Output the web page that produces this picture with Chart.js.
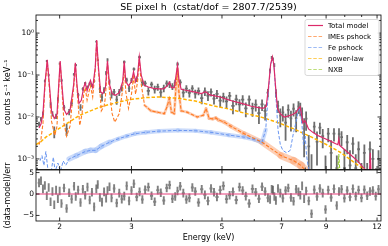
<!DOCTYPE html>
<html>
<head>
<meta charset="utf-8">
<script src="https://cdn.jsdelivr.net/npm/chart.js@4.4.1/dist/chart.umd.min.js"></script>
<style>
  html, body { margin: 0; padding: 0; background: #fff; }
  #wrap { position: relative; width: 388px; height: 246px; }
  canvas { position: absolute; left: 0; top: 0; }
</style>
</head>
<body>
<div id="wrap">
  <canvas id="spec" width="388" height="246"></canvas>
  <canvas id="resid" width="388" height="246"></canvas>
</div>
<script>
// axis ranges
const X_MIN = 1.75, X_MAX = 12.27;
const Y_MIN = 5.6e-4, Y_MAX = 2.7;
const RES_MIN = -6.3, RES_MAX = 5.6;

// ticks
const xMajor = [2, 3, 5, 7, 9, 12];
const xTickLabels = ['2', '3', '5', '7', '9', '12'];
const xMinor = [4, 6, 8, 10, 11];
const yMajor = [1e-3, 1e-2, 1e-1, 1];
const yTickLabels = ['10⁻³', '10⁻²', '10⁻¹', '10⁰'];
const yDecades = [1e-4, 1e-3, 1e-2, 1e-1, 1];
const ySubs = [2, 3, 4, 5, 6, 7, 8, 9];
const resTicks = [-5, 0, 5];
const resTickLabels = ['−5', '0', '5'];

// observed spectrum (keV, counts/s/keV, 1-sigma error)
const dataE = [1.78,1.80,1.82,1.84,1.86,1.88,1.90,1.92,1.94,1.96,1.98,2.00,
  2.02,2.05,2.08,2.11,2.14,2.17,2.19,2.22,2.25,2.28,2.31,2.34,2.37,2.40,2.43,2.46,2.48,2.51,2.54,2.57,2.60,2.62,2.65,2.68,2.72,2.76,2.80,2.84,2.88,2.92,2.96,3.00,
  3.04,3.09,3.14,3.19,3.24,3.30,3.36,3.42,3.48,3.54,3.60,3.66,3.72,3.78,3.84,3.89,3.95,4.02,4.09,4.16,4.23,4.30,4.38,4.46,4.54,4.62,4.70,4.78,4.86,4.95,
  5.04,5.13,5.22,5.32,5.42,5.52,5.62,5.72,5.83,5.94,6.05,6.16,6.27,6.38,6.48,6.56,6.62,6.67,6.72,6.78,6.86,6.95,7.05,7.16,7.27,7.38,7.49,7.60,7.70,7.78,7.86,7.95,8.04,
  8.16,8.29,8.42,8.55,8.69,8.83,8.97,9.11,9.26,9.41,9.56,9.68,9.82,9.98,10.14,10.30,10.47,10.64,10.81,10.99,11.17,11.35,11.53,11.72,11.91,12.10];
const dataRate = [0.0068,0.0089,0.0119,0.072,0.215,0.10,0.0196,0.012,0.0045,0.0104,0.0267,0.188,
  0.075,0.017,0.0052,0.0132,0.0214,0.104,0.173,0.0334,0.017,0.047,0.0635,0.052,0.062,0.057,0.072,0.624,0.226,0.046,0.0298,0.044,0.112,0.23,0.069,0.0344,0.0395,0.026,0.039,0.049,0.2045,0.076,0.048,0.075,
  0.139,0.080,0.267,0.0665,0.063,0.042,0.0596,0.0458,0.0524,0.0388,0.0488,0.063,0.060,0.054,0.066,0.183,0.067,0.038,0.0475,0.0375,0.048,0.036,0.0417,0.0283,0.041,0.0325,0.0395,0.0275,0.0355,0.0246,
  0.030,0.0236,0.032,0.0184,0.0264,0.020,0.026,0.016,0.0258,0.016,0.0198,0.0124,0.020,0.014,0.038,0.129,0.262,0.241,0.173,0.0375,0.0185,0.0108,0.0129,0.0073,0.0147,0.0093,0.0157,0.0094,0.0178,0.0162,0.012,0.0052,0.0091,
  0.002,0.0004,0.0059,0.0026,0.0056,0.0035,0.0005,0.004,0.0014,0.004,0.0006,0.0039,0.0033,0.0006,0.0025,0.0007,0.0023,0.0006,0.0017,0.0002,0.0014,0.0003,0.0017,0.001,0.0002,0.001];
const dataErr = [0.0009,0.0011,0.0016,0.006,0.012,0.007,0.003,0.0017,0.0014,0.0015,0.003,0.011,
  0.007,0.0022,0.0017,0.0022,0.003,0.008,0.011,0.0038,0.003,0.0045,0.005,0.0045,0.0055,0.005,0.006,0.02,0.012,0.0085,0.0065,0.0075,0.013,0.02,0.0095,0.0068,0.007,0.0065,0.0075,0.0085,0.018,0.01,0.0085,0.01,
  0.013,0.012,0.022,0.011,0.01,0.0095,0.01,0.0095,0.01,0.0095,0.01,0.011,0.011,0.01,0.011,0.018,0.011,0.0088,0.0098,0.0085,0.0094,0.0085,0.0088,0.0082,0.0092,0.0085,0.0085,0.0077,0.0085,0.0077,
  0.0078,0.0072,0.0075,0.0068,0.0073,0.0065,0.0071,0.0061,0.0068,0.0058,0.0063,0.0056,0.0061,0.0058,0.0085,0.015,0.022,0.022,0.017,0.0085,0.006,0.0051,0.0051,0.0046,0.0051,0.0048,0.0054,0.0051,0.006,0.0058,0.0048,0.0041,0.0044,
  0.0017,0.0009,0.0018,0.0019,0.0017,0.0017,0.0007,0.0015,0.0014,0.0014,0.0006,0.0015,0.0013,0.0011,0.0012,0.0009,0.001,0.0007,0.0009,0.0006,0.0008,0.0005,0.0009,0.0007,0.0004,0.0006];
// residuals (data-model)/err, error bar is one sigma
const resid = [2.6,3.1,1.2,2.0,-0.4,1.5,-1.8,0.6,-2.5,0.9,-1.1,0.7,
  -2.2,1.4,-3.4,0.3,-1.2,1.8,-0.6,0.9,-2.0,1.1,-0.3,1.6,
  -1.4,0.4,-3.0,1.2,2.2,-0.8,-1.9,0.5,-1.0,0.8,1.7,-0.9,
  1.3,-2.1,0.2,-1.2,-0.5,1.9,-1.6,0.8,2.4,-0.7,0.5,-1.3,
  1.0,1.6,-0.4,-1.8,0.9,0.3,-1.5,1.4,2.1,-1.1,-0.6,0.7,
  1.8,0.2,-1.3,-0.9,1.5,0.6,-2.0,1.1,-0.2,-1.6,1.3,0.4,
  -0.7,0.9,1.9,-1.2,-0.3,0.5,-1.4,1.6,0.8,-0.5,-2.2,1.2,
  0.4,-1.1,1.7,0.6,-0.9,-1.3,1.1,0.9,-0.6,-1.5,1.3,0.2,
  -1.0,0.8,1.4,-0.8,-1.7,1.1,0.5,-0.3,1.9,-1.1,0.7,-1.6,
  -4.6,1.0,-0.6,1.3,0.2,-3.6,0.9,-0.8,1.2,-2.7,0.6,1.1,
  -1.0,0.8,-0.7,1.2,-0.5,0.9,-0.9,1.0,-0.4,0.6,0.8,-0.5,1.1];
const RES_ERR = 1;

// model components
const totalE = [1.78,1.80,1.82,1.84,1.865,1.89,1.91,1.94,1.97,1.99,2.006,2.025,2.05,2.08,2.12,2.165,2.185,2.205,2.23,2.26,
  2.29,2.31,2.335,2.36,2.38,2.41,2.445,2.465,2.49,2.52,2.55,2.59,2.62,2.65,2.69,2.74,2.80,2.855,2.88,2.905,
  2.95,3.00,3.035,3.07,3.105,3.135,3.17,3.22,3.30,3.40,3.50,3.60,3.67,3.715,3.76,3.82,3.86,3.89,3.92,3.97,
  4.05,4.15,4.30,4.45,4.56,4.65,4.80,4.95,5.10,5.30,5.50,5.70,5.90,6.10,6.30,6.42,6.50,6.58,6.645,6.70,
  6.77,6.84,6.95,7.10,7.25,7.45,7.60,7.70,7.77,7.84,7.90,7.98,8.05,8.15,8.35,8.60,8.90,9.20,9.50,9.62,
  9.67,9.72,9.90,10.20,10.50,10.80,11.10,11.40,11.50,11.55,11.60,11.90,12.27];
const totalV = [0.0055,0.0068,0.012,0.06,0.23,0.05,0.014,0.0092,0.0115,0.06,0.215,0.06,0.015,0.0115,0.014,0.06,0.195,0.06,0.021,0.025,
  0.05,0.065,0.042,0.06,0.075,0.05,0.15,0.68,0.15,0.04,0.036,0.05,0.22,0.06,0.036,0.033,0.038,0.07,0.21,0.07,
  0.055,0.07,0.12,0.07,0.10,0.27,0.10,0.058,0.052,0.048,0.047,0.047,0.055,0.068,0.05,0.05,0.10,0.17,0.08,0.046,
  0.044,0.042,0.039,0.036,0.040,0.034,0.032,0.030,0.027,0.024,0.022,0.020,0.018,0.017,0.016,0.018,0.05,0.18,0.27,0.18,
  0.05,0.016,0.012,0.010,0.0105,0.0115,0.013,0.016,0.0175,0.011,0.0072,0.0082,0.007,0.0052,0.0043,0.0036,0.0031,0.0027,0.0023,0.0022,
  0.003,0.0021,0.0018,0.0014,0.0011,0.00085,0.00062,0.0005,0.0005,0.0014,0.00046,0.0004,0.00032];

const imeE = [1.78,1.80,1.82,1.84,1.865,1.89,1.91,1.945,1.97,1.99,2.006,2.025,2.05,2.08,2.12,2.165,2.185,2.205,2.24,2.27,
  2.29,2.31,2.335,2.36,2.38,2.41,2.445,2.465,2.49,2.53,2.57,2.59,2.62,2.65,2.69,2.73,2.80,2.855,2.88,2.905,
  2.95,3.00,3.035,3.07,3.105,3.135,3.17,3.23,3.35,3.47,3.61,3.67,3.715,3.76,3.82,3.86,3.89,3.92,3.97,4.11,
  4.35,4.50,4.57,4.65,4.75,4.83,4.90,5.06,5.26,5.67,6.27,6.98,7.50,7.81,8.13];
const imeV = [0.0022,0.003,0.007,0.05,0.21,0.04,0.008,0.0036,0.006,0.05,0.195,0.05,0.007,0.0035,0.006,0.05,0.18,0.05,0.0063,0.012,
  0.035,0.05,0.025,0.04,0.055,0.03,0.13,0.65,0.13,0.014,0.018,0.03,0.2,0.04,0.012,0.0075,0.012,0.045,0.18,0.04,
  0.016,0.035,0.09,0.035,0.07,0.24,0.06,0.019,0.014,0.013,0.012,0.018,0.028,0.013,0.012,0.06,0.14,0.04,0.014,0.013,
  0.010,0.011,0.016,0.0092,0.009,0.0095,0.0085,0.0076,0.006,0.004,0.0025,0.0012,0.0009,0.0007,0.00045];

const feE = [1.79,1.81,1.83,1.85,1.87,1.90,1.93,1.95,1.98,2.01,2.04,2.07,2.11,2.20,2.31,2.38,2.45,2.53,2.65,2.78,
  2.92,3.06,3.25,3.50,3.90,4.30,4.70,5.20,5.67,6.00,6.27,6.40,6.50,6.58,6.645,6.71,6.78,6.86,6.95,7.05,
  7.20,7.35,7.48,7.58,7.68,7.77,7.85,7.92,8.00,8.06,8.15,8.30];
const feV = [0.0009,0.0012,0.0007,0.0015,0.0006,0.0004,0.0011,0.0005,0.0008,0.0005,0.0009,0.0007,0.001,0.0012,0.0015,0.0016,0.0016,0.002,0.0025,0.003,
  0.0035,0.004,0.0043,0.0046,0.0048,0.0047,0.0043,0.0037,0.0033,0.0029,0.0025,0.005,0.04,0.17,0.26,0.17,0.03,0.005,0.0022,0.0016,
  0.0014,0.0016,0.004,0.007,0.013,0.016,0.007,0.0022,0.0035,0.0012,0.0006,0.0003];

const plE = [1.75,1.80,1.85,2.00,2.24,2.50,2.75,2.97,3.25,3.50,3.90,4.30,4.70,5.20,5.67,6.27,6.90,7.50,8.30,9.10,9.80,10.50,11.20,12.27];
const plV = [0.0022,0.0026,0.0033,0.0054,0.011,0.017,0.022,0.026,0.029,0.030,0.028,0.024,0.019,0.0155,0.0124,0.0098,0.0072,0.0052,0.0033,0.0021,0.0014,0.00085,0.00055,0.0003];

const nxbE = [1.75,4.00,8.00,9.50,9.60,9.67,9.74,9.85,11.40,11.50,11.55,11.62,12.27];
const nxbV = [0.00012,0.00013,0.00018,0.0002,0.0004,0.0013,0.0004,0.0002,0.0002,0.0003,0.0007,0.0002,0.0002];

const xy = (xs, ys) => xs.map((x, i) => ({ x: x, y: ys[i] }));

Chart.defaults.font.family = "'DejaVu Sans', sans-serif";
Chart.defaults.color = '#000';

const DASH = [3.5, 1.8];

// error bars drawn under the model lines
const errBars = {
  id: 'errBars',
  beforeDatasetsDraw(chart) {
    const { ctx, chartArea: a } = chart;
    const xs = chart.scales.x, ys = chart.scales.y;
    chart.data.datasets.forEach(ds => {
      if (ds.errors === undefined) return;
      const pts = ds.data, n = pts.length;
      const px = pts.map(p => xs.getPixelForValue(p.x));
      ctx.save();
      ctx.beginPath();
      ctx.rect(a.left, a.top, a.right - a.left, a.bottom - a.top);
      ctx.clip();
      ctx.strokeStyle = ds.errColor;
      ctx.lineWidth = ds.errWidth;
      pts.forEach((p, i) => {
        const e = Array.isArray(ds.errors) ? ds.errors[i] : ds.errors;
        const yl = ys.getPixelForValue(Math.max(p.y - e, ys.min));
        const yh = ys.getPixelForValue(p.y + e);
        const xl = i > 0 ? (px[i] + px[i - 1]) / 2 : px[i] - 1.3;
        const xr = i < n - 1 ? (px[i] + px[i + 1]) / 2 : px[i] + 1.3;
        ctx.beginPath();
        ctx.moveTo(px[i], yl);
        ctx.lineTo(px[i], yh);
        if (p.y > ys.min) {
          const yc = ys.getPixelForValue(p.y);
          ctx.moveTo(xl, yc);
          ctx.lineTo(xr, yc);
        }
        ctx.stroke();
      });
      ctx.restore();
    });
  }
};

// uncertainty envelopes drawn as wide pale strokes along a model curve
const bands = {
  id: 'bands',
  beforeDatasetsDraw(chart) {
    const { ctx, chartArea: a } = chart;
    chart.data.datasets.forEach((ds, i) => {
      if (!ds.band) return;
      const pts = chart.getDatasetMeta(i).data;
      ctx.save();
      ctx.beginPath();
      ctx.rect(a.left, a.top, a.right - a.left, a.bottom - a.top);
      ctx.clip();
      ctx.strokeStyle = ds.band.color;
      ctx.lineCap = 'round';
      for (let k = 1; k < pts.length; k++) {
        const w = ds.band.width(ds.data[k - 1].x);
        if (w <= 0) continue;
        ctx.lineWidth = w;
        ctx.beginPath();
        ctx.moveTo(pts[k - 1].x, pts[k - 1].y);
        ctx.lineTo(pts[k].x, pts[k].y);
        ctx.stroke();
      }
      ctx.restore();
    });
  }
};

// frame with inward ticks on all four sides
function frameTicks(yMaj, yMin) {
  return {
    id: 'frameTicks',
    afterDraw(chart) {
      const { ctx, chartArea: a } = chart;
      const xs = chart.scales.x, ys = chart.scales.y;
      ctx.save();
      ctx.strokeStyle = '#000';
      ctx.lineWidth = 0.8;
      ctx.strokeRect(a.left, a.top, a.right - a.left, a.bottom - a.top);
      ctx.beginPath();
      const xt = (vals, len) => vals.forEach(v => {
        const p = xs.getPixelForValue(v);
        ctx.moveTo(p, a.top); ctx.lineTo(p, a.top + len);
        ctx.moveTo(p, a.bottom); ctx.lineTo(p, a.bottom - len);
      });
      const yt = (vals, len) => vals.forEach(v => {
        if (v < ys.min || v > ys.max) return;
        const p = ys.getPixelForValue(v);
        ctx.moveTo(a.left, p); ctx.lineTo(a.left + len, p);
        ctx.moveTo(a.right, p); ctx.lineTo(a.right - len, p);
      });
      xt(xMajor, 3.5); xt(xMinor, 2);
      yt(yMaj, 3.5); yt(yMin, 2);
      ctx.stroke();
      ctx.restore();
    }
  };
}

// legend box in the upper right corner of the spectrum panel
const boxLegend = {
  id: 'boxLegend',
  afterDraw(chart) {
    const { ctx, chartArea: a } = chart;
    const items = chart.data.datasets.filter(d => d.label);
    const rowH = 11, w = 74, h = items.length * rowH + 1;
    const x0 = a.right - 76, y0 = a.top + 4.5;
    ctx.save();
    ctx.beginPath();
    if (ctx.roundRect) ctx.roundRect(x0, y0, w, h, 2); else ctx.rect(x0, y0, w, h);
    ctx.fillStyle = 'rgba(255,255,255,0.85)';
    ctx.fill();
    ctx.strokeStyle = '#cfcfcf';
    ctx.lineWidth = 0.8;
    ctx.stroke();
    ctx.font = "7px 'DejaVu Sans'";
    ctx.textBaseline = 'middle';
    items.forEach((d, i) => {
      const cy = y0 + 6 + i * rowH;
      ctx.strokeStyle = d.borderColor;
      ctx.lineWidth = 1.2;
      ctx.setLineDash(d.borderDash || []);
      ctx.globalAlpha = d.borderDash ? 0.65 : 1;
      ctx.beginPath();
      ctx.moveTo(x0 + 3, cy);
      ctx.lineTo(x0 + 18, cy);
      ctx.stroke();
      ctx.globalAlpha = 1;
      ctx.setLineDash([]);
      ctx.fillStyle = '#000';
      ctx.fillText(d.label, x0 + 23, cy + 0.5);
    });
    ctx.restore();
  }
};

const zeroLine = {
  id: 'zeroLine',
  afterDatasetsDraw(chart) {
    const { ctx, chartArea: a } = chart;
    const p = chart.scales.y.getPixelForValue(0);
    ctx.save();
    ctx.strokeStyle = '#e8407c';
    ctx.lineWidth = 1.2;
    ctx.beginPath();
    ctx.moveTo(a.left, p);
    ctx.lineTo(a.right, p);
    ctx.stroke();
    ctx.restore();
  }
};

function xAxis(showLabels) {
  return {
    type: 'logarithmic',
    min: X_MIN,
    max: X_MAX,
    afterBuildTicks: s => { s.ticks = xMajor.map(v => ({ value: v })); },
    afterFit: s => { s.height = showLabels ? 25 : 0; },
    grid: { display: false, drawTicks: false },
    border: { display: false },
    ticks: {
      display: showLabels, autoSkip: false, maxRotation: 0, padding: 1.5,
      font: { size: 7.5 },
      callback: (v, i) => xTickLabels[i]
    },
    title: { display: showLabels, text: 'Energy (keV)', font: { size: 8 }, padding: { top: 0, bottom: 3.5 } }
  };
}

// envelope widths (px) along the IMEs and Fe curves
const imeBandWidth = e => (e < 3.2 ? 0 : 2.8 + 5 * Math.max(0, Math.min(1, Math.log(e / 4.5) / Math.log(7.5 / 4.5))));
const feBandWidth = e => (e < 2.08 || e > 6.3 ? 0 : (e < 2.6 ? 5.5 : 4.2));

new Chart(document.getElementById('spec'), {
  type: 'line',
  data: {
    datasets: [
      { label: 'Total model', data: xy(totalE, totalV), borderColor: '#dc2a6a', borderWidth: 1.2, pointRadius: 0 },
      { label: 'IMEs pshock', data: xy(imeE, imeV), borderColor: '#ff7a22', borderWidth: 1.1, borderDash: DASH, pointRadius: 0,
        band: { color: 'rgba(252,160,110,0.5)', width: imeBandWidth } },
      { label: 'Fe pshock', data: xy(feE, feV), borderColor: '#6a96f0', borderWidth: 1, borderDash: DASH, pointRadius: 0,
        band: { color: 'rgba(160,190,245,0.55)', width: feBandWidth } },
      { label: 'power-law', data: xy(plE, plV), borderColor: '#ffb300', borderWidth: 1.5, borderDash: DASH, pointRadius: 0 },
      { label: 'NXB', data: xy(nxbE, nxbV), borderColor: '#9acd32', borderWidth: 1.1, borderDash: DASH, pointRadius: 0 },
      { data: xy(dataE, dataRate), showLine: false, pointRadius: 0, errors: dataErr,
        errColor: 'rgba(40,40,40,0.68)', errWidth: 1.8 }
    ]
  },
  options: {
    responsive: false,
    animation: false,
    events: [],
    layout: { padding: { left: 0, right: 7, top: 0, bottom: 76.5 } },
    plugins: {
      legend: { display: false },
      tooltip: { enabled: false },
      title: {
        display: true,
        text: 'SE pixel h  (cstat/dof = 2807.7/2539)',
        fullSize: false,
        font: { size: 9.5, weight: 'normal' },
        padding: { top: 2, bottom: 1.6 }
      }
    },
    scales: {
      x: xAxis(false),
      y: {
        type: 'logarithmic',
        min: Y_MIN,
        max: Y_MAX,
        afterBuildTicks: s => { s.ticks = yMajor.map(v => ({ value: v })); },
        afterFit: s => { s.width = 36; },
        grid: { display: false, drawTicks: false },
        border: { display: false },
        ticks: { autoSkip: false, padding: 2, font: { size: 7.5 }, callback: (v, i) => yTickLabels[i] },
        title: { display: true, text: 'counts s⁻¹ keV⁻¹', font: { size: 8 }, padding: { top: 3, bottom: 0 } }
      }
    }
  },
  plugins: [errBars, bands, frameTicks(yMajor, yDecades.flatMap(d => ySubs.map(m => m * d))), boxLegend]
});

new Chart(document.getElementById('resid'), {
  type: 'line',
  data: {
    datasets: [
      { data: xy(dataE, resid), showLine: false, pointRadius: 0, errors: RES_ERR,
        errColor: 'rgba(50,50,50,0.62)', errWidth: 1.9 }
    ]
  },
  options: {
    responsive: false,
    animation: false,
    events: [],
    layout: { padding: { left: 0, right: 7, top: 170, bottom: 0 } },
    plugins: { legend: { display: false }, tooltip: { enabled: false } },
    scales: {
      x: xAxis(true),
      y: {
        type: 'linear',
        min: RES_MIN,
        max: RES_MAX,
        afterBuildTicks: s => { s.ticks = resTicks.map(v => ({ value: v })); },
        afterFit: s => { s.width = 36; },
        grid: { display: false, drawTicks: false },
        border: { display: false },
        ticks: { autoSkip: false, padding: 2, font: { size: 7.5 }, callback: (v, i) => resTickLabels[i] },
        title: { display: true, text: '(data-model)/err', font: { size: 8 }, padding: { top: 3, bottom: 0 } }
      }
    }
  },
  plugins: [errBars, frameTicks(resTicks, []), zeroLine]
});
</script>
</body>
</html>
